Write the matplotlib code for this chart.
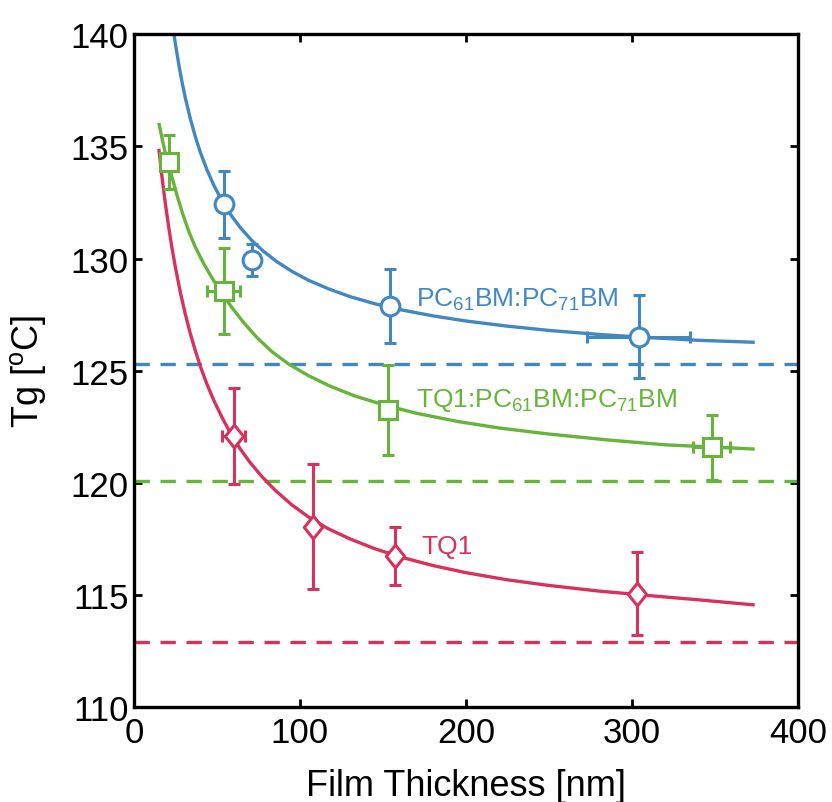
import matplotlib
matplotlib.use('Agg')
import matplotlib.pyplot as plt
from matplotlib.path import Path

plt.rcParams['font.family'] = ['Liberation Sans', 'DejaVu Sans']
plt.rcParams['mathtext.fontset'] = 'custom'
plt.rcParams['mathtext.rm'] = 'Liberation Sans'
plt.rcParams['mathtext.it'] = 'Liberation Sans'
plt.rcParams['mathtext.bf'] = 'Liberation Sans'
plt.rcParams['mathtext.default'] = 'regular'

BLUE = '#4287c0'
GREEN = '#67b33b'
RED = '#d6325c'

# measured points (film thickness nm, Tg degC)
pcbm_x = [54, 71, 154, 304]
pcbm_y = [132.42, 129.94, 127.87, 126.52]
pcbm_yerr = [1.48, 0.7, 1.65, 1.85]
pcbm_xerr = [0, 0, 0, 31]

blend_x = [21, 54, 153, 348]
blend_y = [134.3, 128.56, 123.25, 121.6]
blend_yerr = [1.2, 1.9, 2.0, 1.45]
blend_xerr = [0, 10, 0, 11]

tq1_x = [60, 108, 157, 303]
tq1_y = [122.09, 118.05, 116.75, 115.05]
tq1_yerr = [2.15, 2.8, 1.3, 1.85]
tq1_xerr = [7, 0, 0, 0]

# fitted curves
pcbm_fit_x = [23.5, 25, 27, 29, 31, 34, 37, 40, 44, 48, 53, 58, 64, 71, 78, 86, 95, 105, 117, 130,
              145, 160, 180, 200, 225, 250, 280, 310, 340, 374]
pcbm_fit_y = [140.32, 139.56, 138.66, 137.86, 137.15, 136.23, 135.43, 134.74, 133.96, 133.29, 132.58,
              131.99, 131.39, 130.81, 130.33, 129.87, 129.44, 129.04, 128.66, 128.31, 127.99, 127.73,
              127.45, 127.22, 126.99, 126.8, 126.62, 126.48, 126.36, 126.27]

blend_fit_x = [15, 17, 19, 21, 23, 26, 29, 33, 37, 42, 47, 53, 59, 66, 74, 83, 93, 105, 118, 133,
               150, 170, 195, 220, 250, 285, 320, 374]
blend_fit_y = [136.05, 135.34, 134.67, 134.18, 133.61, 132.81, 132.08, 131.22, 130.51, 129.78, 129.14,
               128.46, 127.82, 127.16, 126.49, 125.86, 125.31, 124.79, 124.32, 123.88, 123.49, 123.11,
               122.74, 122.45, 122.18, 121.92, 121.7, 121.51]

tq1_fit_x = [15, 17, 19, 21, 23, 25, 28, 31, 34, 37, 40, 44, 48, 53, 58, 64, 70, 77, 85, 95, 105,
             117, 130, 145, 160, 180, 200, 225, 250, 280, 310, 340, 374]
tq1_fit_y = [134.9, 133.57, 132.41, 131.37, 130.44, 129.6, 128.48, 127.51, 126.65, 125.89, 125.2,
             124.4, 123.7, 122.93, 122.24, 121.52, 120.91, 120.29, 119.68, 119.03, 118.49, 117.96,
             117.51, 117.07, 116.71, 116.32, 116.0, 115.68, 115.43, 115.18, 114.98, 114.79, 114.56]

# bulk Tg values (dashed)
bulk_tg = [125.3, 120.1, 112.9]
bulk_colors = [BLUE, GREEN, RED]

diamond = Path([(0, 1), (0.8, 0), (0, -1), (-0.8, 0), (0, 1)],
               [Path.MOVETO, Path.LINETO, Path.LINETO, Path.LINETO, Path.CLOSEPOLY])

fig = plt.figure(figsize=(8.32, 8.03), dpi=100)
ax = fig.add_axes([0.161, 0.118, 0.798, 0.838])

for tg, c in zip(bulk_tg, bulk_colors):
    ax.plot([0, 400], [tg, tg], color=c, lw=2.4, dashes=(4.6, 3.2))

ax.plot(pcbm_fit_x, pcbm_fit_y, color=BLUE, lw=2.4, solid_capstyle='butt')
ax.plot(blend_fit_x, blend_fit_y, color=GREEN, lw=2.4, solid_capstyle='butt')
ax.plot(tq1_fit_x, tq1_fit_y, color=RED, lw=2.4, solid_capstyle='butt')

eb_kw = dict(ls='none', mfc='white', mew=2.2, elinewidth=2.2, capsize=4, capthick=2.2)
ax.errorbar(pcbm_x, pcbm_y, yerr=pcbm_yerr, xerr=pcbm_xerr, marker='o', ms=13.5, color=BLUE, **eb_kw)
ax.errorbar(blend_x, blend_y, yerr=blend_yerr, xerr=blend_xerr, marker='s', ms=13.5, color=GREEN, **eb_kw)
ax.errorbar(tq1_x, tq1_y, yerr=tq1_yerr, xerr=tq1_xerr, marker=diamond, ms=16.5, color=RED, **eb_kw)

ax.text(170, 128.2, r'PC$_{61}$BM:PC$_{71}$BM', color=BLUE, fontsize=19, va='center')
ax.text(170, 123.7, r'TQ1:PC$_{61}$BM:PC$_{71}$BM', color=GREEN, fontsize=19, va='center')
ax.text(173, 117.2, 'TQ1', color=RED, fontsize=19, va='center')

ax.set_xlim(0, 400)
ax.set_ylim(110, 140)
ax.set_xticks([0, 100, 200, 300, 400])
ax.set_yticks([110, 115, 120, 125, 130, 135, 140])
ax.tick_params(direction='in', length=6, width=2, labelsize=25, top=True, right=True)
ax.tick_params(axis='x', pad=6)
ax.tick_params(axis='y', pad=4)
for s in ax.spines.values():
    s.set_linewidth(2.4)

ax.set_xlabel('Film Thickness [nm]', fontsize=26, labelpad=14)
ax.set_ylabel(r'Tg [$^{o}$C]', fontsize=26, labelpad=16)

plt.savefig('out.png', dpi=100)
